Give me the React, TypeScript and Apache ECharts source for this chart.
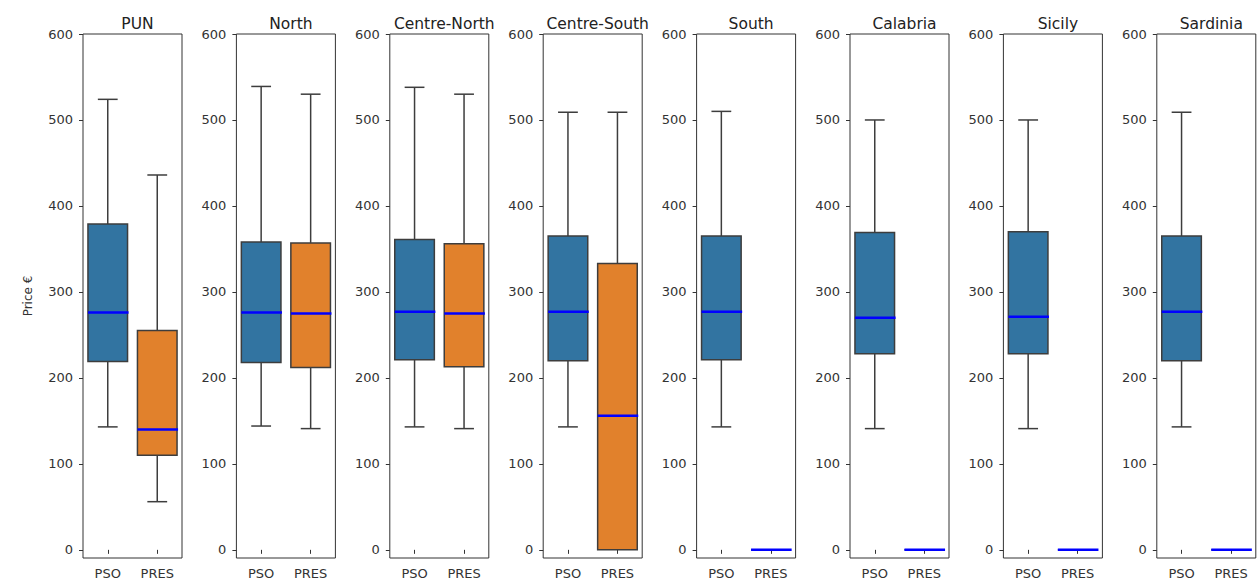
import React, { useEffect, useRef } from "react";
import * as echarts from "echarts";

const regions = ["PUN", "North", "Centre-North", "Centre-South", "South", "Calabria", "Sicily", "Sardinia"];
const groups = ["PSO", "PRES"];
// [lowerWhisker, Q1, median, Q3, upperWhisker]
const psoStats = [
  [143, 219, 276, 379, 524],
  [144, 218, 276, 358, 539],
  [143, 221, 277, 361, 538],
  [143, 220, 277, 365, 509],
  [143, 221, 277, 365, 510],
  [141, 228, 270, 369, 500],
  [141, 228, 271, 370, 500],
  [143, 220, 277, 365, 509],
];
const presStats = [
  [56, 110, 140, 255, 436],
  [141, 212, 275, 357, 530],
  [141, 213, 275, 356, 530],
  [0, 0, 156, 333, 509],
  [0, 0, 0, 0, 0],
  [0, 0, 0, 0, 0],
  [0, 0, 0, 0, 0],
  [0, 0, 0, 0, 0],
];
const yTicks = [0, 100, 200, 300, 400, 500, 600];
const boxColors = ["#3274a1", "#e1812c"];

export default function App() {
  const ref = useRef<HTMLDivElement>(null);
  useEffect(() => {
    if (!ref.current) return;
    const chart = echarts.init(ref.current, null, { renderer: "svg" });
    const left0 = 83;
    const step = 153.4;
    const w = 99;
    const grids: any[] = [];
    const xAxes: any[] = [];
    const yAxes: any[] = [];
    const series: any[] = [];
    const titles: any[] = [];
    const font = "DejaVu Sans";
    regions.forEach((r, i) => {
      const left = left0 + step * i;
      grids.push({ left, top: 34, width: w, height: 524, show: true, borderColor: "#333", borderWidth: 1, backgroundColor: "transparent" });
      titles.push({ text: r, left: left + w / 2, top: 11, textAlign: "center", textStyle: { fontSize: 15.5, fontWeight: "normal", color: "#222", fontFamily: font } });
      xAxes.push({
        type: "category", gridIndex: i, data: groups, boundaryGap: true,
        axisLine: { show: false },
        axisTick: { show: true, alignWithLabel: true, length: 4, lineStyle: { color: "#333" } },
        axisLabel: { color: "#333", fontSize: 13, margin: 9, fontFamily: font },
        splitLine: { show: false },
      });
      yAxes.push({
        type: "value", gridIndex: i, min: -9.5, max: 600,
        axisLine: { show: false },
        axisTick: { show: true, length: 4, lineStyle: { color: "#333" }, customValues: yTicks },
        axisLabel: { color: "#333", fontSize: 13, margin: 10, fontFamily: font, customValues: yTicks },
        splitLine: { show: false },
        name: i === 0 ? "Price €" : "",
        nameLocation: "middle", nameRotate: 90, nameGap: 49,
        nameTextStyle: { fontSize: 12, color: "#333", fontFamily: font },
      });
      const data = [
        [0, ...psoStats[i]],
        [1, ...presStats[i]],
      ];
      series.push({
        type: "custom", xAxisIndex: i, yAxisIndex: i, data,
        encode: { x: 0, y: [1, 2, 3, 4, 5] },
        renderItem: (params: any, api: any) => {
          const c = api.value(0);
          const lo = api.value(1), q1 = api.value(2), med = api.value(3), q3 = api.value(4), hi = api.value(5);
          const band = api.size([1, 0])[0];
          const bw = band * 0.8;
          const cw = bw * 0.5;
          const pLo = api.coord([c, lo]);
          const pQ1 = api.coord([c, q1]);
          const pMed = api.coord([c, med]);
          const pQ3 = api.coord([c, q3]);
          const pHi = api.coord([c, hi]);
          const x = pLo[0];
          const edge = "#3d3d3d";
          const lw = 1.5;
          const children: any[] = [];
          if (hi > q3) {
            children.push({ type: "line", shape: { x1: x, y1: pQ3[1], x2: x, y2: pHi[1] }, style: { stroke: edge, lineWidth: lw } });
            children.push({ type: "line", shape: { x1: x - cw / 2, y1: pHi[1], x2: x + cw / 2, y2: pHi[1] }, style: { stroke: edge, lineWidth: lw } });
          }
          if (lo < q1) {
            children.push({ type: "line", shape: { x1: x, y1: pQ1[1], x2: x, y2: pLo[1] }, style: { stroke: edge, lineWidth: lw } });
            children.push({ type: "line", shape: { x1: x - cw / 2, y1: pLo[1], x2: x + cw / 2, y2: pLo[1] }, style: { stroke: edge, lineWidth: lw } });
          }
          children.push({
            type: "rect",
            shape: { x: x - bw / 2, y: pQ3[1], width: bw, height: pQ1[1] - pQ3[1] },
            style: { fill: boxColors[c], stroke: edge, lineWidth: lw },
          });
          children.push({ type: "line", shape: { x1: x - bw / 2, y1: pMed[1], x2: x + bw / 2 + 1, y2: pMed[1] }, style: { stroke: "#0000ff", lineWidth: 2.5 } });
          return { type: "group", children };
        },
      });
    });
    chart.setOption({
      animation: false,
      backgroundColor: "#ffffff",
      title: titles,
      grid: grids,
      xAxis: xAxes,
      yAxis: yAxes,
      series,
    });
    return () => chart.dispose();
  }, []);
  return <div ref={ref} style={{ position: "absolute", left: 0, top: 0, width: 1259, height: 582 }} />;
}
